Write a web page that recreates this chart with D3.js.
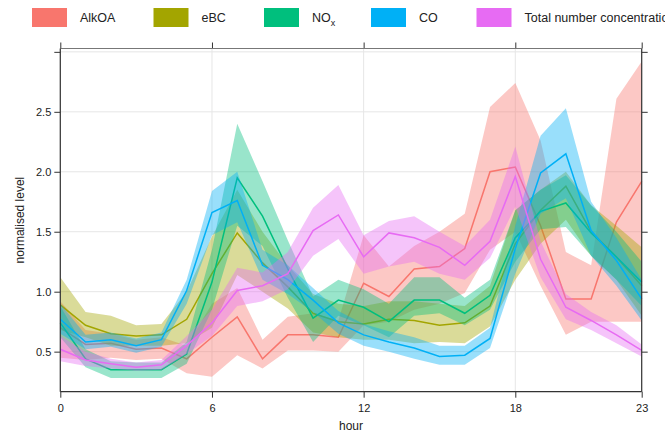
<!DOCTYPE html>
<html lang="en">
<head>
    <meta charset="utf-8">
    <title>Diurnal profile</title>
    <script src="https://d3js.org/d3.v7.min.js"></script>
    <style>
        body { margin: 0; background: #fff; }
        text { font-family: "Liberation Sans", Arial, sans-serif; fill: #222; }
    </style>
</head>
<body>
<div id="chart"></div>
<script>
    // Hour of day
    const hours = [0, 1, 2, 3, 4, 5, 6, 7, 8, 9, 10, 11, 12, 13, 14, 15, 16, 17, 18, 19, 20, 21, 22, 23];
    const xTicks = [0, 6, 12, 18, 23];
    const yTicks = [0.5, 1.0, 1.5, 2.0, 2.5, 3.0];

    // Mean and confidence band (low / high) per series
    const alkoaMean = [0.70, 0.56, 0.57, 0.52, 0.53, 0.44, 0.62, 0.79, 0.44, 0.64, 0.64, 0.62, 1.07, 0.96, 1.19, 1.21, 1.36, 2.00, 2.04, 1.55, 0.94, 0.94, 1.58, 1.92];
    const alkoaLo   = [0.45, 0.43, 0.45, 0.43, 0.44, 0.32, 0.29, 0.47, 0.36, 0.51, 0.51, 0.50, 0.72, 0.75, 0.85, 0.90, 0.99, 1.35, 1.50, 1.05, 0.64, 0.75, 0.75, 0.75];
    const alkoaHi   = [0.92, 0.68, 0.65, 0.60, 0.62, 0.55, 0.90, 1.03, 0.60, 0.79, 0.82, 0.76, 1.47, 1.21, 1.38, 1.50, 1.65, 2.54, 2.74, 2.26, 1.33, 1.22, 2.61, 2.92];

    const ebcMean = [0.89, 0.72, 0.65, 0.63, 0.64, 0.77, 1.15, 1.49, 1.24, 1.04, 0.82, 0.75, 0.73, 0.77, 0.76, 0.72, 0.74, 0.88, 1.40, 1.68, 1.88, 1.50, 1.29, 1.05];
    const ebcLo   = [0.68, 0.62, 0.55, 0.55, 0.55, 0.57, 0.70, 1.14, 1.00, 0.86, 0.66, 0.62, 0.60, 0.60, 0.57, 0.58, 0.57, 0.71, 1.10, 1.40, 1.60, 1.30, 1.10, 0.80];
    const ebcHi   = [1.12, 0.83, 0.80, 0.72, 0.73, 1.00, 1.46, 1.85, 1.50, 1.22, 0.98, 0.90, 0.88, 0.92, 0.92, 0.90, 0.88, 1.05, 1.68, 1.85, 2.00, 1.72, 1.55, 1.37];

    const noxMean = [0.74, 0.44, 0.35, 0.35, 0.35, 0.48, 1.08, 1.95, 1.63, 1.19, 0.78, 0.93, 0.87, 0.75, 0.93, 0.93, 0.82, 0.97, 1.45, 1.67, 1.74, 1.49, 1.29, 1.08];
    const noxLo   = [0.62, 0.37, 0.28, 0.28, 0.28, 0.40, 0.85, 1.55, 1.38, 0.95, 0.58, 0.80, 0.72, 0.62, 0.80, 0.82, 0.72, 0.85, 1.25, 1.52, 1.54, 1.30, 1.10, 0.88];
    const noxHi   = [0.88, 0.52, 0.42, 0.41, 0.41, 0.58, 1.35, 2.40, 1.92, 1.43, 0.96, 1.10, 1.02, 0.90, 1.12, 1.12, 0.95, 1.10, 1.68, 1.85, 1.97, 1.72, 1.50, 1.25];

    const coMean = [0.77, 0.58, 0.60, 0.55, 0.60, 1.01, 1.66, 1.76, 1.22, 1.10, 0.93, 0.74, 0.64, 0.58, 0.53, 0.46, 0.47, 0.61, 1.36, 1.99, 2.15, 1.51, 1.26, 0.94];
    const coLo   = [0.65, 0.52, 0.54, 0.49, 0.54, 0.90, 1.47, 1.58, 1.10, 0.98, 0.83, 0.65, 0.55, 0.50, 0.44, 0.39, 0.39, 0.53, 1.15, 1.65, 1.78, 1.30, 1.05, 0.76];
    const coHi   = [0.90, 0.64, 0.66, 0.61, 0.66, 1.10, 1.84, 2.00, 1.35, 1.22, 1.03, 0.84, 0.73, 0.67, 0.62, 0.55, 0.55, 0.70, 1.55, 2.30, 2.53, 1.75, 1.45, 1.10];

    const totalMean = [0.52, 0.43, 0.40, 0.37, 0.39, 0.55, 0.74, 1.01, 1.05, 1.15, 1.51, 1.64, 1.29, 1.49, 1.45, 1.37, 1.22, 1.42, 1.96, 1.27, 0.87, 0.76, 0.64, 0.51];
    const totalLo   = [0.42, 0.38, 0.36, 0.34, 0.35, 0.48, 0.63, 0.88, 0.92, 1.02, 1.30, 1.44, 1.15, 1.21, 1.25, 1.15, 1.10, 1.28, 1.71, 1.12, 0.77, 0.68, 0.57, 0.46];
    const totalHi   = [0.63, 0.50, 0.44, 0.41, 0.43, 0.63, 0.85, 1.20, 1.16, 1.33, 1.70, 1.89, 1.47, 1.59, 1.63, 1.50, 1.38, 1.60, 2.21, 1.42, 0.98, 0.83, 0.72, 0.56];

    const series = [
        {name: "AlkOA", color: "#F8766D", mean: alkoaMean, lo: alkoaLo, hi: alkoaHi},
        {name: "eBC", color: "#A3A500", mean: ebcMean, lo: ebcLo, hi: ebcHi},
        {name: "NOx", color: "#00BF7D", mean: noxMean, lo: noxLo, hi: noxHi},
        {name: "CO", color: "#00B0F6", mean: coMean, lo: coLo, hi: coHi},
        {name: "Total number concentration", color: "#E76BF3", mean: totalMean, lo: totalLo, hi: totalHi}
    ];

    const W = 665, H = 435;
    const margin = {top: 48.5, right: 23.3, bottom: 43.3, left: 60.3};
    const width = W - margin.left - margin.right,
        height = H - margin.top - margin.bottom;

    const svg = d3.select("#chart")
        .append("svg")
        .attr("width", W)
        .attr("height", H);

    const g = svg.append("g")
        .attr("transform", `translate(${margin.left},${margin.top})`);

    const x = d3.scaleLinear().domain([0, 23]).range([0, width]);
    const y = d3.scaleLinear().domain([0.166, 3.028]).range([height, 0]);

    // Grid
    g.append("g").selectAll("line")
        .data(yTicks)
        .join("line")
        .attr("x1", 0).attr("x2", width)
        .attr("y1", d => y(d)).attr("y2", d => y(d))
        .attr("stroke", "#e6e6e6");
    g.append("g").selectAll("line")
        .data(xTicks)
        .join("line")
        .attr("x1", d => x(d)).attr("x2", d => x(d))
        .attr("y1", 0).attr("y2", height)
        .attr("stroke", "#e6e6e6");

    // Bands and lines, one series after another
    const band = d3.area()
        .x((d, i) => x(hours[i]))
        .y0(d => y(d[0]))
        .y1(d => y(d[1]));
    const line = d3.line()
        .x((d, i) => x(hours[i]))
        .y(d => y(d));

    series.forEach(s => {
        const pairs = s.lo.map((v, i) => [v, s.hi[i]]);
        g.append("path")
            .attr("d", band(pairs))
            .attr("fill", s.color)
            .attr("fill-opacity", 0.4);
        g.append("path")
            .attr("d", line(s.mean))
            .attr("fill", "none")
            .attr("stroke", s.color)
            .attr("stroke-width", 1.5);
    });

    // Axes
    g.append("g")
        .call(d3.axisLeft(y).tickValues(yTicks).tickSize(6).tickSizeOuter(0)
            .tickFormat(d => d === 3.0 ? "" : d3.format(".1f")(d)));
    g.append("g")
        .attr("transform", `translate(0,${height})`)
        .call(d3.axisBottom(x).tickValues(xTicks).tickSize(6).tickSizeOuter(0).tickPadding(7));
    g.append("g")
        .attr("transform", `translate(${width},0)`)
        .call(d3.axisRight(y).tickValues(yTicks).tickSize(6).tickSizeOuter(0).tickFormat(""));
    g.append("g")
        .call(d3.axisTop(x).tickValues(xTicks).tickSize(6).tickSizeOuter(0).tickFormat(""));

    g.selectAll(".domain").remove();
    g.selectAll(".tick line").attr("stroke", "#333");
    g.selectAll(".tick text")
        .style("font-family", "'Liberation Sans', Arial, sans-serif")
        .style("font-size", "11px")
        .attr("fill", "#222");

    // Frame
    g.append("line").attr("x1", 0).attr("x2", width).attr("y1", 0).attr("y2", 0)
        .attr("stroke", "#777").attr("stroke-width", 1.2);
    g.append("line").attr("x1", 0).attr("x2", width).attr("y1", height).attr("y2", height)
        .attr("stroke", "#333").attr("stroke-width", 1.2);
    g.append("line").attr("x1", 0).attr("x2", 0).attr("y1", 0).attr("y2", height)
        .attr("stroke", "#333").attr("stroke-width", 1.2);
    g.append("line").attr("x1", width).attr("x2", width).attr("y1", 0).attr("y2", height)
        .attr("stroke", "#333").attr("stroke-width", 1.2);

    // Axis titles
    svg.append("text")
        .attr("x", margin.left + width / 2)
        .attr("y", 430)
        .attr("text-anchor", "middle")
        .style("font-size", "12px")
        .text("hour");
    svg.append("text")
        .attr("transform", `translate(24,${margin.top + height / 2}) rotate(-90)`)
        .attr("text-anchor", "middle")
        .style("font-size", "12px")
        .text("normalised level");

    // Legend (the last label runs past the right edge, as in the source)
    const legendX = [32, 153.5, 264, 371, 476.5];
    const legend = svg.append("g");
    series.forEach((s, i) => {
        legend.append("rect")
            .attr("x", legendX[i]).attr("y", 8)
            .attr("width", 35).attr("height", 19)
            .attr("fill", s.color);
        const t = legend.append("text")
            .attr("x", legendX[i] + 48).attr("y", 22)
            .style("font-size", "12.5px");
        if (s.name === "NOx") {
            t.append("tspan").text("NO");
            t.append("tspan").attr("dy", 4).style("font-size", "9px").text("x");
        } else {
            t.text(s.name);
        }
    });
</script>
</body>
</html>
